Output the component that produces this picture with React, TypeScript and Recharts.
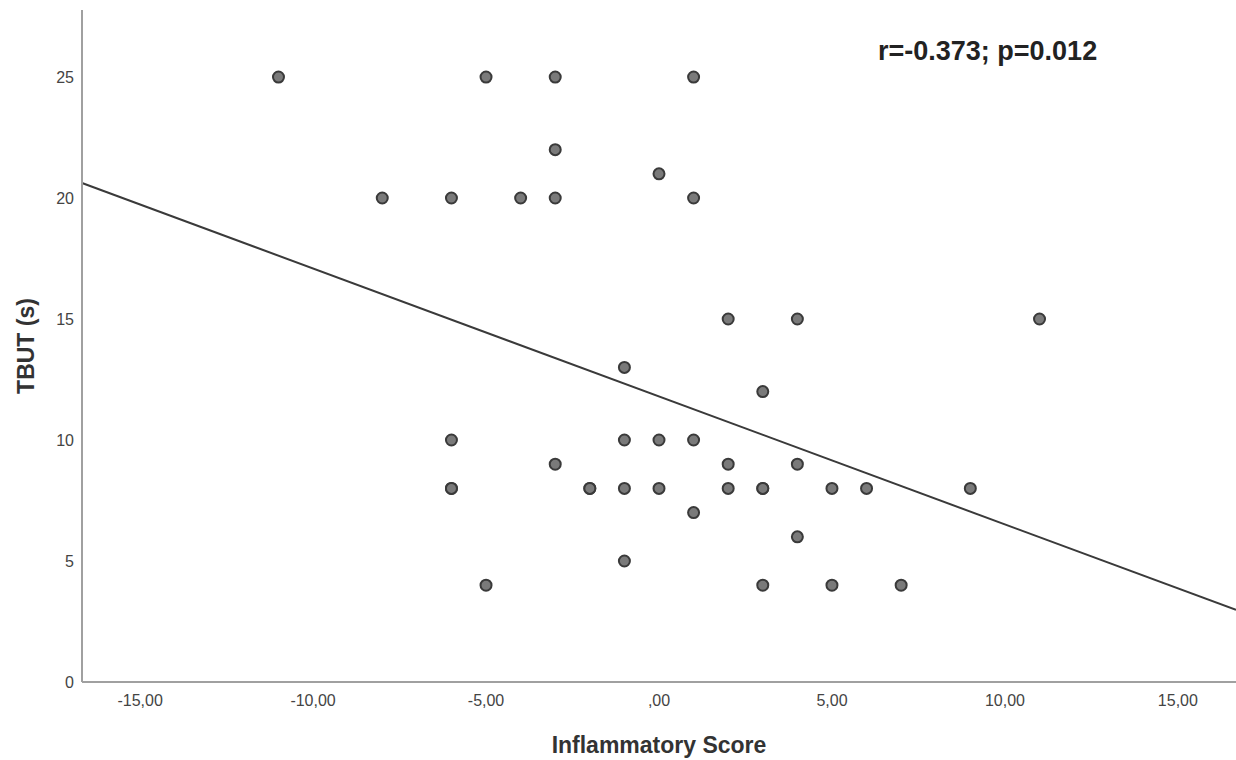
import React from 'react';
import { ScatterChart, Scatter, XAxis, YAxis, ReferenceLine } from 'recharts';

const inflammatoryScore = [-11, -5, -3, 1, -3, 0, -8, -6, -4, -3, 1, 2, 4, 11, -1, 3, -6, -1, 0, 1, -3, 2, 4, -6, -6, -2, -2, -1, 0, 2, 3, 3, 5, 6, 9, 1, 4, -1, -5, 3, 5, 7];
const tbut = [25, 25, 25, 25, 22, 21, 20, 20, 20, 20, 20, 15, 15, 15, 13, 12, 10, 10, 10, 10, 9, 9, 9, 8, 8, 8, 8, 8, 8, 8, 8, 8, 8, 8, 8, 7, 6, 5, 4, 4, 4, 4];
const xTicks = [-15, -10, -5, 0, 5, 10, 15];
const yTicks = [0, 5, 10, 15, 20, 25];
const fitStart = { x: -16.68, y: 20.62 };
const fitEnd = { x: 16.68, y: 2.98 };
const xDomain = [-16.68, 16.68];
const yDomain = [0, 27.77];
const annotation = 'r=-0.373; p=0.012';

const points = inflammatoryScore.map((x, i) => ({ x, y: tbut[i] }));

const fmtX = (v: number) => {
  const s = Math.abs(v).toFixed(2).replace('.', ',');
  const t = s.startsWith('0,') ? s.slice(1) : s;
  return (v < 0 ? '-' : '') + t;
};

const Dot = (props: any) => {
  const { cx, cy } = props;
  return <circle cx={cx} cy={cy} r={5.5} fill="#7a7a7a" stroke="#3a3a3a" strokeWidth={2} />;
};

export default function App() {
  return (
    <div style={{ position: 'absolute', left: 0, top: 0, width: 1236, height: 760, background: '#fff' }}>
      <ScatterChart width={1236} height={760} margin={{ top: 10, right: 0, left: 22, bottom: 0 }}>
        <XAxis
          type="number"
          dataKey="x"
          domain={xDomain}
          ticks={xTicks}
          allowDataOverflow
          tickFormatter={fmtX}
          axisLine={{ stroke: '#a0a0a0', strokeWidth: 2 }}
          tickLine={false}
          tickSize={0}
          tickMargin={13}
          height={78}
          tick={{ fill: '#444', fontSize: 16, fontFamily: 'Liberation Sans, Arial, sans-serif' }}
          label={{ value: 'Inflammatory Score', position: 'insideBottom', offset: 7, fill: '#333', fontSize: 23, fontWeight: 'bold', fontFamily: 'Liberation Sans, Arial, sans-serif' }}
        />
        <YAxis
          type="number"
          dataKey="y"
          domain={yDomain}
          ticks={yTicks}
          allowDataOverflow
          axisLine={{ stroke: '#a0a0a0', strokeWidth: 2 }}
          tickLine={false}
          tickSize={0}
          tickMargin={8}
          width={60}
          tick={{ fill: '#444', fontSize: 16, fontFamily: 'Liberation Sans, Arial, sans-serif' }}
          label={{ value: 'TBUT (s)', angle: -90, position: 'insideLeft', offset: 4, fill: '#333', fontSize: 23, fontWeight: 'bold', fontFamily: 'Liberation Sans, Arial, sans-serif', style: { textAnchor: 'middle' } }}
        />
        <ReferenceLine
          segment={[fitStart, fitEnd]}
          stroke="#3a3a3a"
          strokeWidth={2}
          ifOverflow="visible"
        />
        <Scatter data={points} shape={<Dot />} isAnimationActive={false} />
      </ScatterChart>
      <div style={{ position: 'absolute', left: 878, top: 36, fontFamily: 'Liberation Sans, Arial, sans-serif', fontWeight: 'bold', fontSize: 27, color: '#222', whiteSpace: 'nowrap' }}>
        {annotation}
      </div>
    </div>
  );
}
